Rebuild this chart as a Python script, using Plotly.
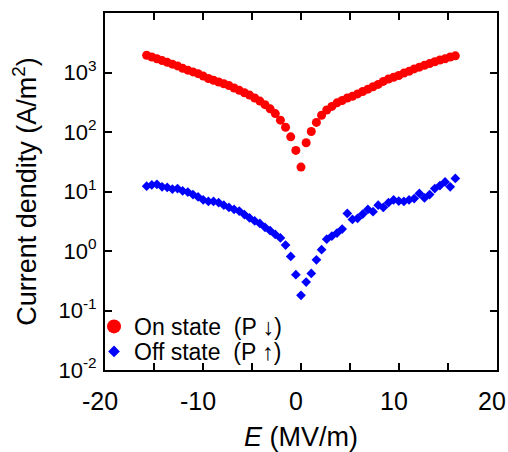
import plotly.graph_objects as go

# Electric field (MV/m)
E = [-15.75, -15.225, -14.7, -14.175, -13.65, -13.125, -12.6, -12.075, -11.55, -11.025,
     -10.5, -9.975, -9.45, -8.925, -8.4, -7.875, -7.35, -6.825, -6.3, -5.775,
     -5.25, -4.725, -4.2, -3.675, -3.15, -2.625, -2.1, -1.575, -1.05, -0.525,
     0.0,
     0.525, 1.05, 1.575, 2.1, 2.625, 3.15, 3.675, 4.2, 4.725, 5.25,
     5.775, 6.3, 6.825, 7.35, 7.875, 8.4, 8.925, 9.45, 9.975, 10.5,
     11.025, 11.55, 12.075, 12.6, 13.125, 13.65, 14.175, 14.7, 15.225, 15.75]

# On state (P down) current density, A/m^2
J_on = [1950, 1820, 1700, 1585, 1480, 1380, 1290, 1175, 1096, 1023,
        955, 871, 794, 741, 692, 646, 603, 550, 501, 457,
        417, 372, 331, 288, 245, 204, 158, 120, 83, 49,
        25.7,
        66, 102, 145, 191, 234, 269, 309, 339, 372, 398,
        437, 479, 525, 575, 631, 708, 776, 832, 891, 977,
        1047, 1148, 1230, 1318, 1413, 1514, 1622, 1698, 1820, 1905]

# Off state (P up) current density, A/m^2
J_off = [12.3, 12.9, 13.2, 12.0, 11.7, 11.0, 11.2, 10.2, 9.8, 8.9,
         8.1, 7.2, 6.8, 6.8, 6.5, 5.9, 5.4, 5.0, 4.7, 4.1,
         3.6, 3.2, 2.9, 2.5, 2.2, 1.9, 1.66, 1.26, 0.81, 0.40,
         0.18,
         0.30, 0.42, 0.71, 1.05, 1.58, 1.78, 2.0, 2.34, 4.27, 3.39,
         3.55, 4.17, 5.0, 4.57, 5.9, 5.4, 6.5, 7.2, 6.9, 6.8,
         7.2, 7.6, 9.3, 7.8, 8.9, 11.2, 12.6, 14.5, 12.0, 16.6]

x_tickvals = [-20, -10, 0, 10, 20]
x_ticktext = ["-20", "-10", "0", "10", "20"]
y_tickvals = [1e-2, 1e-1, 1e0, 1e1, 1e2, 1e3, 1e4]
y_ticktext = ["10<sup>-2</sup>", "10<sup>-1</sup>", "10<sup>0</sup>", "10<sup>1</sup>",
              "10<sup>2</sup>", "10<sup>3</sup>", "10<sup>4</sup>"]

name_on = "On state\u00a0\u00a0(P \u2193)"
name_off = "Off state\u00a0\u00a0(P \u2191)"

RED = "#ff0000"
BLUE = "#0000ff"
FONT = "Liberation Sans, Arial, sans-serif"

fig = go.Figure()
fig.add_trace(go.Scatter(x=E, y=J_on, mode="markers", showlegend=False,
                         marker=dict(symbol="circle", size=9, color=RED)))
fig.add_trace(go.Scatter(x=E, y=J_off, mode="markers", showlegend=False,
                         marker=dict(symbol="diamond", size=7.5, color=BLUE)))
# legend entries
fig.add_trace(go.Scatter(x=[None], y=[None], mode="markers", name=name_on, legend="legend",
                         marker=dict(symbol="circle", size=14, color=RED)))
fig.add_trace(go.Scatter(x=[None], y=[None], mode="markers", name=name_off, legend="legend2",
                         marker=dict(symbol="diamond", size=9, color=BLUE)))

axis_common = dict(showline=True, linecolor="black", linewidth=2, mirror="allticks",
                   ticks="inside", ticklen=7, tickwidth=2, tickcolor="black",
                   showgrid=False, zeroline=False, automargin=False)

legend_common = dict(xanchor="left", yanchor="middle", bgcolor="rgba(0,0,0,0)",
                     font=dict(size=23), itemwidth=30, borderwidth=0)

fig.update_layout(
    width=508, height=452,
    margin=dict(l=105, r=11, t=13, b=82),
    paper_bgcolor="white", plot_bgcolor="white",
    font=dict(family=FONT, color="black", size=23),
    xaxis=dict(range=[-20, 20], tickvals=x_tickvals, ticktext=x_ticktext,
               tickfont=dict(size=25), ticklabelstandoff=8,
               ticklabelshift=-5, ticklabeloverflow="allow",
               minor=dict(dtick=5, ticks="inside", ticklen=7, tickwidth=2, tickcolor="black"),
               title=dict(text="<i>E</i> (MV/m)", font=dict(size=27), standoff=17),
               **axis_common),
    yaxis=dict(type="log", range=[-2, 4], tickvals=y_tickvals, ticktext=y_ticktext,
               tickfont=dict(size=22), ticklabelstandoff=2,
               title=dict(text="Current dendity (A/m<sup>2</sup>)", font=dict(size=27), standoff=14),
               **axis_common),
    legend=dict(x=-0.028, y=0.122, **legend_common),
    legend2=dict(x=-0.028, y=0.052, **legend_common),
)

fig.write_html("out.html")
